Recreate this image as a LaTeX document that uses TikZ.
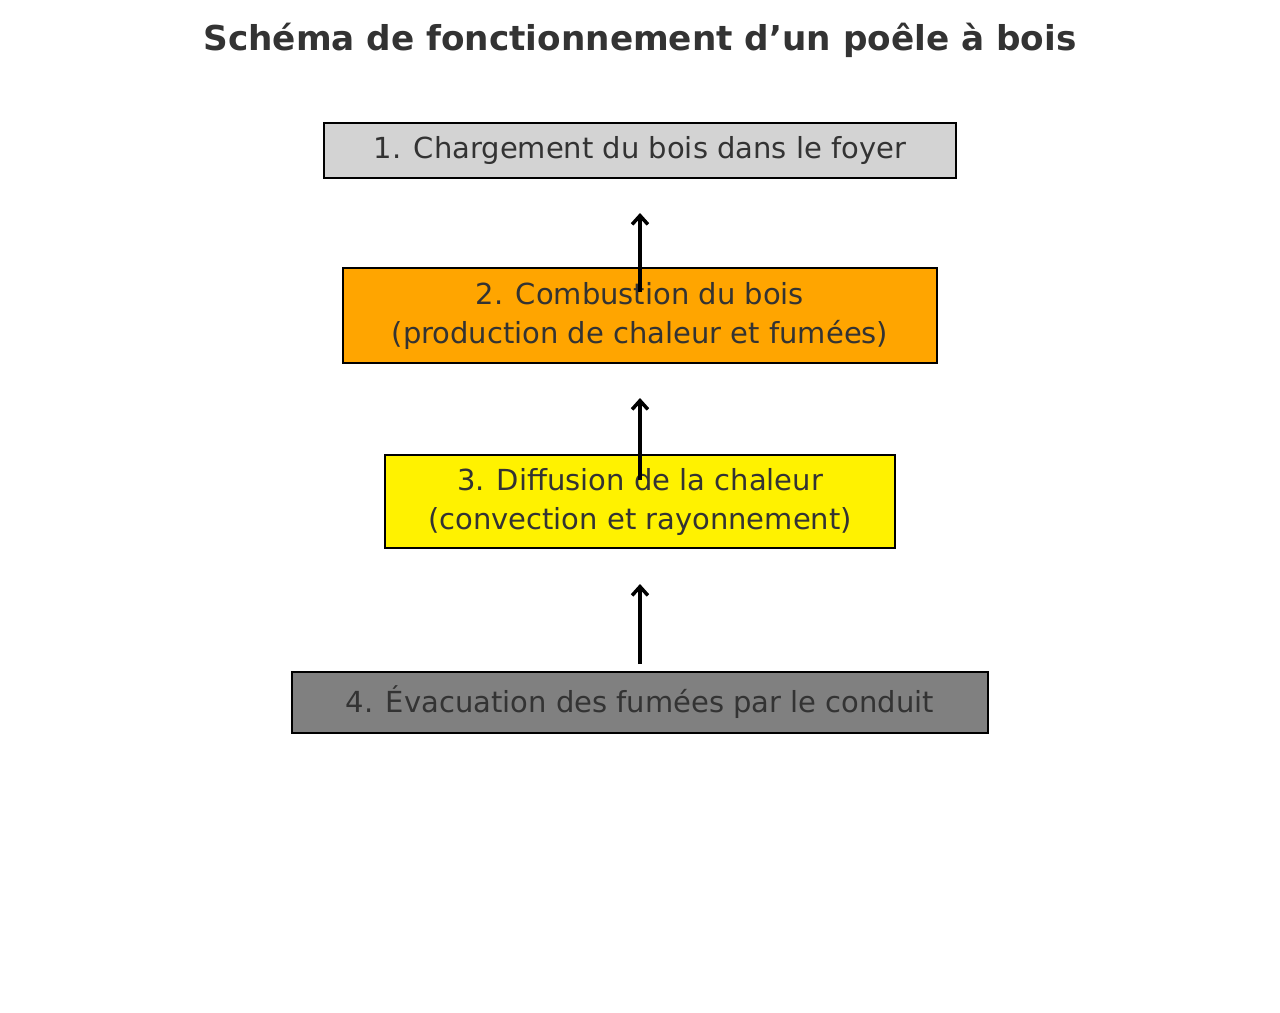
\documentclass[tikz,border=0pt]{standalone}
\usepackage{fontspec}
\setmainfont{DejaVu Sans}
\usetikzlibrary{calc,arrows.meta}
\definecolor{txt}{HTML}{333333}
\begin{document}
\begin{tikzpicture}[x=0.02cm,y=-0.02cm,
  box/.style={draw=black,line width=1.5pt,text=txt,align=center,inner sep=0pt,
    font=\fontsize{16.5}{22.2}\selectfont},
  flow/.style={line width=2.4pt,-{Straight Barb[length=5pt,width=9pt,line width=2pt]}}]
\useasboundingbox (0,0) rectangle (1280,1012);
\node[text=txt,font=\bfseries\fontsize{19.5}{24}\selectfont] (title) at (640,40) {Schéma de fonctionnement d'un poêle à bois};
\node[box,fill={rgb,255:red,211;green,211;blue,211},minimum width=632*0.02cm,minimum height=55*0.02cm] (b1) at (640,150.5) {1. Chargement du bois dans le foyer};
\node[box,fill={rgb,255:red,255;green,165;blue,0},minimum width=594*0.02cm,minimum height=95*0.02cm] (b2) at (640,315.5) {2. Combustion du bois\\(production de chaleur et fumées)};
\node[box,fill=yellow,minimum width=510*0.02cm,minimum height=93*0.02cm] (b3) at (640,501.5) {3. Diffusion de la chaleur\\(convection et rayonnement)};
\node[box,fill={rgb,255:red,128;green,128;blue,128},minimum width=696*0.02cm,minimum height=61*0.02cm] (b4) at (640,702.5) {4. Évacuation des fumées par le conduit};
\coordinate (s1) at (640,292); \coordinate (e1) at (640,213);
\coordinate (s2) at (640,480); \coordinate (e2) at (640,398);
\coordinate (s3) at (640,664); \coordinate (e3) at (640,584);
\draw[flow] (s1) -- (e1);
\draw[flow] (s2) -- (e2);
\draw[flow] (s3) -- (e3);
\end{tikzpicture}
\end{document}
